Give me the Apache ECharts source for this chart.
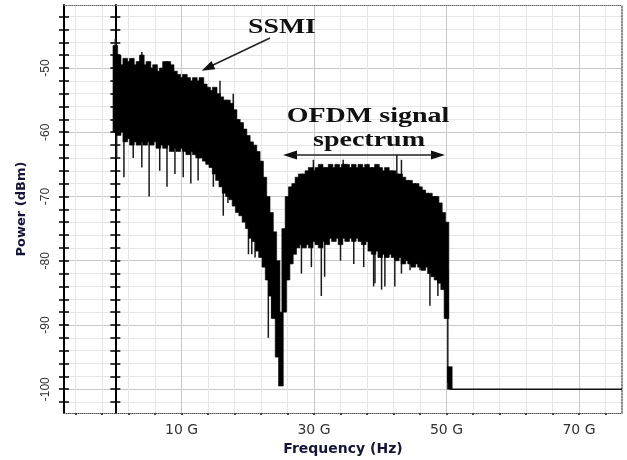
<!DOCTYPE html>
<html>
<head>
<meta charset="utf-8">
<title>SSMI / OFDM spectrum</title>
<script src="https://cdn.jsdelivr.net/npm/echarts@6/dist/echarts.min.js"></script>
<style>
  html, body { margin: 0; padding: 0; background: #fff; }
  #chart { width: 627px; height: 460px; }
</style>
</head>
<body>
<div id="chart"></div>
<script>
// sample frequencies (GHz) of the spectrum envelope
var freqG = [
  0, 0.5, 1, 1.5, 2, 2.5, 3, 3.5, 4, 4.5,
  5, 5.5, 6, 6.5, 7, 7.5, 8, 8.5, 9, 9.5,
  10, 10.5, 11, 11.5, 12, 12.5, 13, 13.5, 14, 14.5,
  15, 15.5, 16, 16.5, 17, 17.5, 18, 18.5, 19, 19.5,
  20, 20.5, 21, 21.5, 22, 22.5, 23, 23.5, 24, 24.5,
  25, 25.5, 26, 26.5, 27, 27.5, 28, 28.5, 29, 29.5,
  30, 30.5, 31, 31.5, 32, 32.5, 33, 33.5, 34, 34.5,
  35, 35.5, 36, 36.5, 37, 37.5, 38, 38.5, 39, 39.5,
  40, 40.5, 41, 41.5, 42, 42.5, 43, 43.5, 44, 44.5,
  45, 45.5, 46, 46.5, 47, 47.5, 48, 48.5, 49, 49.5,
  50, 50.5
];
// upper edge of the noisy spectrum (dBm)
var upperDbm = [
  -46.5, -48.0, -49.5, -48.5, -49.0, -48.5, -49.5, -49.0, -48.0, -49.5,
  -49.0, -50.0, -49.5, -50.5, -50.0, -49.0, -49.0, -49.5, -50.5, -51.0,
  -51.5, -51.0, -51.5, -52.0, -51.5, -52.0, -51.5, -52.5, -53.0, -53.5,
  -53.0, -54.0, -54.5, -55.0, -55.0, -55.5, -56.5, -58.0, -58.5, -59.5,
  -60.5, -61.5, -62.0, -63.0, -64.5, -67.0, -70.0, -72.5, -75.5, -80.0,
  -88.0, -75.0, -70.0, -68.5, -68.0, -67.0, -66.5, -66.5, -66.0, -65.5,
  -66.0, -65.5, -65.0, -65.5, -65.5, -65.0, -65.5, -65.0, -65.5, -65.0,
  -65.0, -65.5, -65.0, -65.5, -65.0, -65.5, -65.0, -65.5, -65.5, -65.0,
  -65.5, -66.0, -65.5, -66.0, -66.0, -66.5, -66.5, -67.0, -67.5, -67.5,
  -68.0, -68.0, -68.5, -69.0, -69.5, -69.5, -70.0, -70.0, -71.0, -72.5,
  -74.0, -96.5
];
// lower edge of the dense part (dBm)
var lowerDbm = [
  -60.0, -60.5, -60.0, -61.5, -61.0, -62.0, -61.5, -62.0, -61.5, -62.0,
  -61.5, -62.0, -61.5, -62.5, -62.0, -62.5, -62.0, -63.0, -62.5, -63.0,
  -62.5, -63.0, -63.5, -63.0, -63.5, -64.0, -64.0, -64.5, -65.0, -65.5,
  -66.5, -67.5, -68.5, -69.5, -70.0, -70.5, -71.5, -72.5, -73.0, -74.0,
  -75.0, -76.5, -77.0, -78.5, -79.5, -81.0, -83.0, -85.5, -89.0, -95.0,
  -99.5, -88.0, -83.0, -80.5, -79.0, -78.0, -77.5, -78.0, -77.5, -78.0,
  -77.0, -77.5, -78.0, -77.0, -77.5, -76.5, -77.0, -76.5, -77.5, -76.5,
  -77.0, -76.5, -77.0, -76.5, -77.0, -77.5, -77.0, -78.5, -79.0, -78.5,
  -79.5, -79.0, -79.5, -79.0, -79.5, -80.0, -79.5, -80.5, -80.0, -80.5,
  -81.0, -80.5, -81.0, -81.5, -81.0, -82.0, -82.5, -83.0, -83.5, -84.5,
  -89.0, -100.0
];
// single spikes sticking out of the band [GHz, dBm]
var spikes = [
  [0.0, -45.5], [0.2, -64], [1.3, -67], [2.7, -64], [4.0, -47.5], [4.0, -65.5],
  [5.1, -70], [6.7, -66], [7.8, -68.5], [9.0, -66.5], [10.25, -67], [11.4, -68],
  [12.5, -67.5], [14.8, -68.5], [15.8, -52], [16.3, -73], [17.0, -71], [17.8, -54],
  [20.1, -79], [20.6, -79], [21.1, -79.5], [23.1, -92], [23.6, -89],
  [28.1, -82], [29.6, -81], [29.9, -64.3], [31.1, -85.5], [31.6, -82.5],
  [34.0, -80], [34.4, -64.3], [36.0, -80.5], [37.5, -81], [39.0, -84], [39.2, -83.5],
  [40.2, -84.5], [40.7, -84], [42.2, -84], [42.5, -63.5], [43.2, -82], [43.2, -64.3],
  [44.5, -81.5], [46.0, -81.5], [47.5, -87], [48.7, -85.5], [49.3, -84], [50.2, -99]
];
// noise floor after the signal band
var floorG = [50.5, 76.5];
var floorDbm = [-100, -100];

// grid / tick values
var xMinorTicks = [-6, -2, 2, 6, 10, 14, 18, 22, 26, 30, 34, 38, 42, 46, 50, 54, 58, 62, 66, 70, 74];
var xMajorTicks = [10, 30, 50, 70];
var yMinorTicks = [-102, -100, -98, -96, -94, -92, -90, -88, -86, -84, -82, -80, -78, -76, -74, -72,
  -70, -68, -66, -64, -62, -60, -58, -56, -54, -52, -50, -48, -46, -44, -42];
var yMajorTicks = [-100, -90, -80, -70, -60, -50];

var X_MIN = -7.75, X_MAX = 76.5, Y_MIN = -103.7, Y_MAX = -40.2;
var STEP_G = 0.5;

var myChart = echarts.init(document.getElementById("chart"));

function bandMid(g) {
  var i = Math.round(g / STEP_G);
  return (upperDbm[i] + lowerDbm[i]) / 2;
}

var lightGrid = "#e6e6e6", darkGrid = "#c9c9c9";

function yAx(extra) {
  var base = {
    type: "value", min: Y_MIN, max: Y_MAX, position: "left",
    axisLine: { show: false, onZero: false },
    axisTick: { show: false },
    axisLabel: { show: false },
    splitLine: { show: false }
  };
  return Object.assign(base, extra);
}

var option = {
  animation: false,
  grid: { left: 64, right: 5, top: 5, bottom: 47, containLabel: false, outerBoundsMode: "none" },
  xAxis: [
    {
      type: "value", min: X_MIN, max: X_MAX, position: "bottom",
      axisLine: { onZero: false, lineStyle: { color: "#555", type: "dotted", width: 1 } },
      axisTick: { customValues: xMinorTicks, length: 2, lineStyle: { color: "#444", width: 2 } },
      axisLabel: { show: false },
      splitLine: { show: true, lineStyle: { color: lightGrid, width: 1 } }
    },
    {
      type: "value", min: X_MIN, max: X_MAX, position: "bottom",
      axisLine: { show: false, onZero: false },
      axisTick: { show: false, customValues: xMajorTicks },
      axisLabel: {
        customValues: xMajorTicks, margin: 10,
        fontFamily: "DejaVu Sans", fontSize: 14, color: "#333",
        formatter: function (v) { return v + " G"; }
      },
      splitLine: { show: true, lineStyle: { color: darkGrid, width: 1 } },
      name: "Frequency (Hz)", nameLocation: "middle", nameGap: 26,
      nameTextStyle: { fontFamily: "DejaVu Sans", fontWeight: "bold", fontSize: 14, color: "#15153a" }
    },
    {
      type: "value", min: X_MIN, max: X_MAX, position: "top",
      axisLine: { onZero: false, lineStyle: { color: "#666", type: "dotted", width: 1 } },
      axisTick: { show: false }, axisLabel: { show: false }, splitLine: { show: false }
    }
  ],
  yAxis: [
    yAx({
      axisLine: { show: true, onZero: false, lineStyle: { color: "#000", width: 2 } },
      axisTick: { show: true, customValues: yMinorTicks, length: 5, lineStyle: { color: "#000", width: 1.5 } },
      splitLine: { show: true, lineStyle: { color: lightGrid, width: 1 } }
    }),
    yAx({
      axisTick: { show: true, inside: true, customValues: yMinorTicks, length: 5, lineStyle: { color: "#000", width: 1.5 } }
    }),
    yAx({
      axisTick: { show: false, customValues: yMajorTicks },
      axisLabel: {
        show: true, customValues: yMajorTicks, rotate: 90, margin: 12,
        fontFamily: "Liberation Sans", fontSize: 12, color: "#333"
      },
      splitLine: { show: true, lineStyle: { color: darkGrid, width: 1 } },
      name: "Power (dBm)", nameLocation: "middle", nameGap: 36,
      nameTextStyle: { fontFamily: "DejaVu Sans", fontWeight: "bold", fontSize: 13, color: "#15153a" }
    }),
    // axis drawn through 0 Hz
    yAx({
      axisLine: { show: true, onZero: true, onZeroAxisIndex: 0, lineStyle: { color: "#000", width: 2 } },
      axisTick: { show: true, customValues: yMinorTicks, length: 5, lineStyle: { color: "#000", width: 1.5 } }
    }),
    yAx({
      axisLine: { show: false, onZero: true, onZeroAxisIndex: 0 },
      axisTick: { show: true, inside: true, customValues: yMinorTicks, length: 5, lineStyle: { color: "#000", width: 1.5 } }
    }),
    yAx({
      position: "right",
      axisLine: { show: true, onZero: false, lineStyle: { color: "#666", type: "dotted", width: 1.5 } }
    })
  ],
  series: [
    {
      // dense noisy band: one column per sample, from lower to upper edge
      name: "band", type: "custom", z: 3,
      data: freqG.map(function (g, i) { return [g, upperDbm[i], lowerDbm[i]]; }),
      renderItem: function (params, api) {
        var g = api.value(0);
        var p1 = api.coord([g - STEP_G / 2, api.value(1)]);
        var p2 = api.coord([g + STEP_G / 2, api.value(2)]);
        return {
          type: "rect",
          shape: { x: p1[0] - 0.7, y: p1[1], width: p2[0] - p1[0] + 1.4, height: p2[1] - p1[1] },
          style: { fill: "#000", stroke: "#000", lineWidth: 0.6 }
        };
      }
    },
    {
      // drawn under the band, so only the part outside it shows
      name: "spikes", type: "custom", z: 2,
      data: spikes.map(function (s) { return [s[0], s[1], bandMid(s[0])]; }),
      renderItem: function (params, api) {
        var p1 = api.coord([api.value(0), api.value(1)]);
        var p2 = api.coord([api.value(0), api.value(2)]);
        return {
          type: "line",
          shape: { x1: p1[0], y1: p1[1], x2: p2[0], y2: p2[1] },
          style: { stroke: "#1a1a1a", lineWidth: 1.5 }
        };
      }
    },
    {
      name: "floor", type: "line", symbol: "none", z: 3,
      data: floorG.map(function (g, i) { return [g, floorDbm[i]]; }),
      lineStyle: { color: "#111", width: 1.5 }
    }
  ],
  graphic: [
    {
      type: "text", x: 282, y: 28, scaleX: 1.32, z: 10,
      style: { text: "SSMI", font: "bold 21px 'Liberation Serif'", fill: "#111",
        textAlign: "center", textVerticalAlign: "middle", verticalAlign: "middle" }
    },
    {
      type: "line", z: 10,
      shape: { x1: 270, y1: 38, x2: 211, y2: 66 },
      style: { stroke: "#222", lineWidth: 1.5 }
    },
    {
      type: "polygon", z: 10,
      shape: { points: [[201.7, 70.7], [215.3, 69.2], [211.5, 61.0]] },
      style: { fill: "#111" }
    },
    {
      type: "text", x: 368, y: 117, scaleX: 1.4, z: 10,
      style: { text: "OFDM signal", font: "bold 20px 'Liberation Serif'", fill: "#111",
        textAlign: "center", textVerticalAlign: "middle", verticalAlign: "middle" }
    },
    {
      type: "text", x: 369, y: 141, scaleX: 1.4, z: 10,
      style: { text: "spectrum", font: "bold 20px 'Liberation Serif'", fill: "#111",
        textAlign: "center", textVerticalAlign: "middle", verticalAlign: "middle" }
    },
    {
      type: "line", z: 10,
      shape: { x1: 292, y1: 155, x2: 436, y2: 155 },
      style: { stroke: "#222", lineWidth: 1.5 }
    },
    {
      type: "polygon", z: 10,
      shape: { points: [[283, 155], [297, 150.5], [297, 159.5]] },
      style: { fill: "#111" }
    },
    {
      type: "polygon", z: 10,
      shape: { points: [[445, 155], [431, 150.5], [431, 159.5]] },
      style: { fill: "#111" }
    }
  ]
};
myChart.setOption(option);
</script>
</body>
</html>
